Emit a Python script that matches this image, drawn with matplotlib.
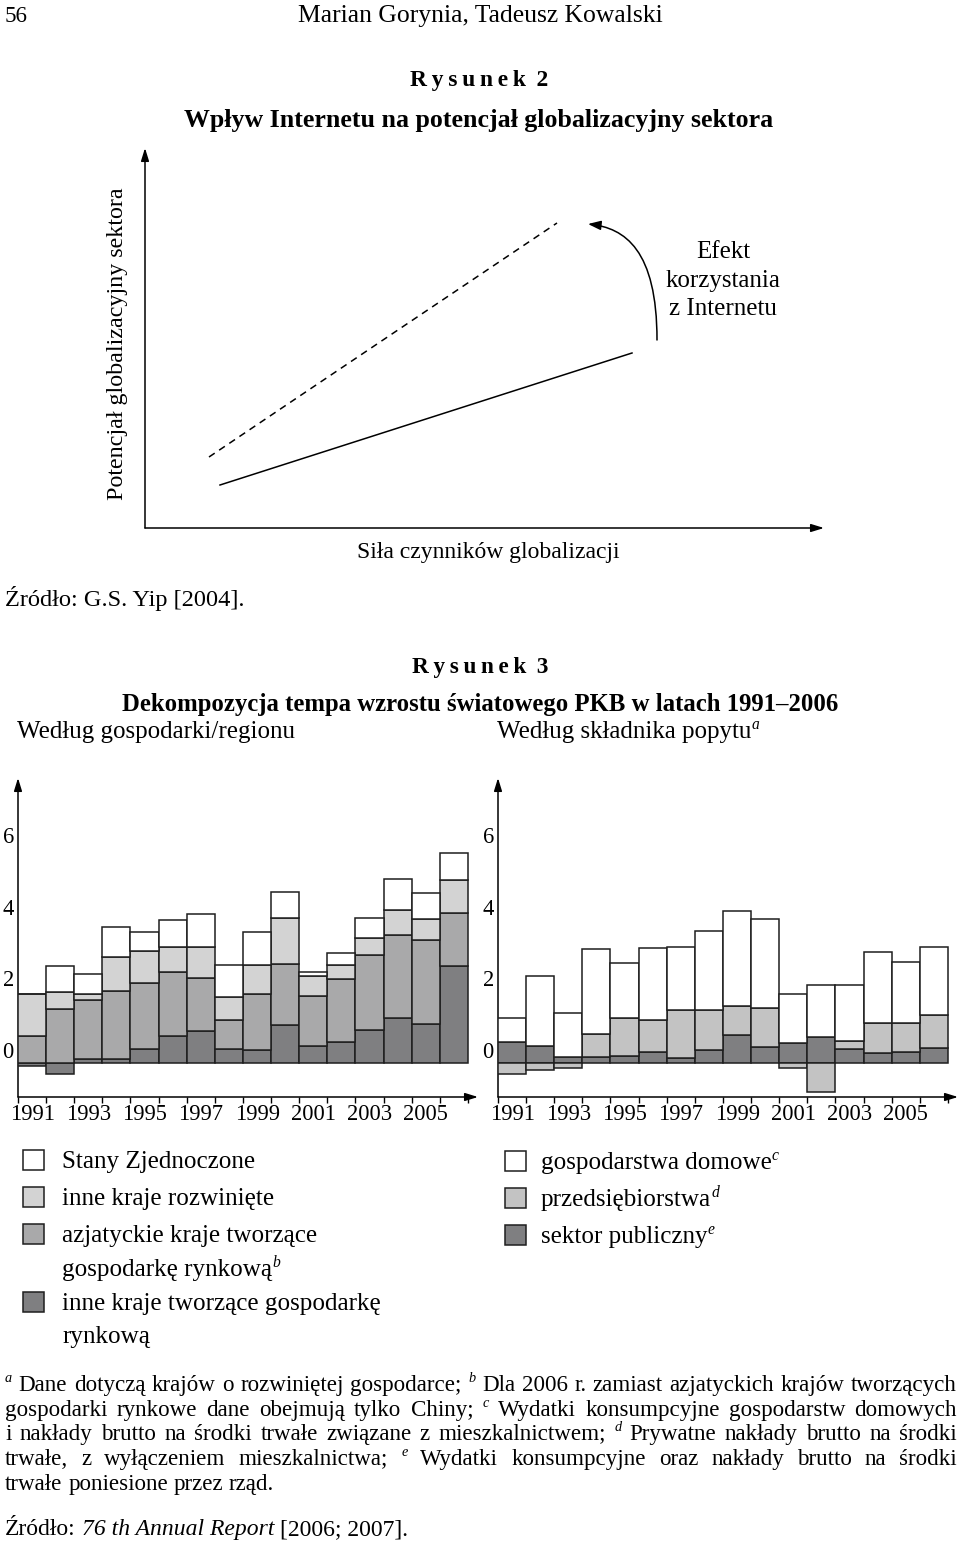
import numpy as np
import matplotlib
matplotlib.use('Agg')
import matplotlib.pyplot as plt
from matplotlib.font_manager import FontProperties
from matplotlib.patches import Rectangle, FancyArrowPatch
from matplotlib.path import Path

SERIF = ['Liberation Serif', 'DejaVu Serif']
plt.rcParams['font.family'] = SERIF

# --- dane (Rysunek 3), wkłady do wzrostu PKB w pkt proc. ---
years = np.arange(1991, 2007)
# wg gospodarki/regionu
usa = [0.0, 0.72, 0.54, 0.84, 0.53, 0.75, 0.92, 0.88, 0.94, 0.72, 0.12, 0.33, 0.55, 0.87, 0.71, 0.78]
other_dev = [1.19, 0.47, 0.18, 0.96, 0.91, 0.71, 0.86, 0.65, 0.80, 1.28, 0.56, 0.40, 0.47, 0.70, 0.60, 0.92]
asia_em = [0.74, 1.51, 1.66, 1.89, 1.85, 1.78, 1.49, 0.80, 1.57, 1.71, 1.38, 1.74, 2.10, 2.31, 2.33, 1.47]
other_em = [-0.09, -0.32, 0.09, 0.11, 0.37, 0.74, 0.88, 0.39, 0.35, 1.05, 0.48, 0.59, 0.91, 1.25, 1.09, 2.70]
# wg skladnika popytu
households = [0.68, 1.94, 1.22, 2.37, 1.53, 2.00, 1.77, 2.22, 2.67, 2.49, 1.39, 1.45, 1.55, 2.00, 1.68, 1.89]
business = [-0.32, -0.19, -0.16, 0.65, 1.06, 0.90, 1.34, 1.10, 0.81, 1.10, -0.14, -0.81, 0.24, 0.82, 0.83, 0.91]
public = [0.58, 0.48, 0.16, 0.15, 0.20, 0.29, 0.12, 0.36, 0.77, 0.43, 0.54, 0.72, 0.37, 0.28, 0.29, 0.42]
yticks = [0, 2, 4, 6]

C_WHITE, C_LIGHT, C_MID, C_DARK = '#ffffff', '#d3d3d3', '#a9a9aa', '#7f7f81'
C_RLIGHT = '#c3c3c3'
EDGE = '#1e1e1e'

fig = plt.figure(figsize=(9.6, 15.44), dpi=100)
ax0 = fig.add_axes([0, 0, 1, 1])
ax0.set_xlim(0, 960)
ax0.set_ylim(1544, 0)
ax0.axis('off')
R = fig.canvas.get_renderer()


def tw(s, size, **kw):
    fp = FontProperties(family=SERIF, size=size, **kw)
    return R.get_text_width_height_descent(s, fp, ismath=False)[0]


def fit(s, width, **kw):
    return 20 * width / tw(s, 20, **kw)


def base(yc, size):
    return yc + 0.33 * size / 0.72


def put(x, yc, s, size, ha='left', **kw):
    return ax0.text(x, base(yc, size), s, fontsize=size, ha=ha, va='baseline', **kw)


def run_style(kind, size, b):
    if kind == 'sup':
        return size * 0.62, dict(style='italic'), b - 0.36 * size / 0.72
    if kind == 'i':
        return size, dict(style='italic'), b
    return size, {}, b


def runs(x, yc, parts, size, draw=True):
    b = base(yc, size)
    sp = tw('a a', size) - tw('aa', size)
    for s, kind in parts:
        if kind == 'sp':
            x += sp
            continue
        sz, kw, yy = run_style(kind, size, b)
        if draw:
            ax0.text(x, yy, s, fontsize=sz, ha='left', va='baseline', **kw)
        x += tw(s, sz, **kw)
    return x


def arrow(p0, p1):
    ax0.annotate('', xy=p1, xytext=p0,
                 arrowprops=dict(arrowstyle='-|>,head_length=0.55,head_width=0.17',
                                 color='k', lw=1.1, shrinkA=0, shrinkB=0,
                                 mutation_scale=14))


# --- naglowek strony ---
put(5, 14, '56', fit('56', 23))
put(480, 14, 'Marian Gorynia, Tadeusz Kowalski',
    fit('Marian Gorynia, Tadeusz Kowalski', 365), ha='center')

# --- Rysunek 2 ---
rys2 = 'R\u2009y\u2009s\u2009u\u2009n\u2009e\u2009k\u2009 2'
put(479, 78, rys2, fit(rys2, 138, weight='bold'), ha='center', weight='bold')
t2 = 'Wpływ Internetu na potencjał globalizacyjny sektora'
put(479, 118, t2, fit(t2, 587, weight='bold'), ha='center', weight='bold')

arrow((145, 528), (145, 148))
arrow((145, 528), (824, 528))
ax0.plot([220, 632], [485, 353], color='k', lw=1.1)
ax0.plot([209, 557], [457, 223], color='k', lw=1.1, dashes=(4.5, 3.5))
curve = Path([(657, 340), (657, 250), (625, 228), (588, 224)],
             [Path.MOVETO, Path.CURVE4, Path.CURVE4, Path.CURVE4])
ax0.add_patch(FancyArrowPatch(path=curve, arrowstyle='-|>,head_length=0.55,head_width=0.2',
                              mutation_scale=14, color='k', lw=1.1))
ylab = 'Potencjał globalizacyjny sektora'
ax0.text(118, 344, ylab, rotation=90, ha='center', va='center', fontsize=fit(ylab, 312))
xlab = 'Siła czynników globalizacji'
put(488, 550, xlab, fit(xlab, 263), ha='center')
eff_size = fit('korzystania', 115)
for yc, s in [(250, 'Efekt'), (279, 'korzystania'), (307, 'z Internetu')]:
    put(723, yc, s, eff_size, ha='center')
src2 = 'Źródło: G.S. Yip [2004].'
put(5, 598, src2, fit(src2, 240))

# --- Rysunek 3 ---
rys3 = 'R\u2009y\u2009s\u2009u\u2009n\u2009e\u2009k\u2009 3'
put(480, 665, rys3, fit(rys3, 136, weight='bold'), ha='center', weight='bold')
t3 = 'Dekompozycja tempa wzrostu światowego PKB w latach 1991–2006'
put(480, 703, t3, fit(t3, 715, weight='bold'), ha='center', weight='bold')
sub_size = fit('Według gospodarki/regionu', 278)
put(17, 730, 'Według gospodarki/regionu', sub_size)
runs(497, 730, [('Według składnika popytu', 'n'), ('a', 'sup')], sub_size)

tick_size = fit('1991', 45)
PX_UNIT, PX_W = 35.8, 28.125
Y0, Y_AX, Y_TOP = 1062.7, 1097, 778


def bar_panel(px_left, series, colors):
    w = 470
    ax = fig.add_axes([px_left / 960, (1544 - Y_AX) / 1544, w / 960, (Y_AX - Y_TOP) / 1544])
    ax.set_facecolor('none')
    ax.set_xlim(1990.5, 1990.5 + w / PX_W)
    ax.set_ylim(-(Y_AX - Y0) / PX_UNIT, (Y0 - Y_TOP) / PX_UNIT)
    pos = np.zeros(len(years))
    neg = np.zeros(len(years))
    for vals, c in zip(series, colors):
        v = np.asarray(vals, dtype=float)
        ax.bar(years, v, width=1.0, bottom=np.where(v >= 0, pos, neg), color=c,
               edgecolor=EDGE, linewidth=1.1, zorder=3)
        pos += np.where(v >= 0, v, 0)
        neg += np.where(v < 0, v, 0)
    for s in ax.spines.values():
        s.set_visible(False)
    ax.set_xticks(np.arange(1990.5, 2007, 1.0))
    ax.set_xticklabels([])
    ax.set_xticks(years[::2], minor=True)
    ax.set_xticklabels([str(y) for y in years[::2]], minor=True)
    ax.tick_params(axis='x', which='major', direction='out', length=4, width=1.0)
    ax.tick_params(axis='x', which='minor', length=0, pad=5, labelsize=tick_size)
    ax.set_yticks(yticks)
    ax.set_yticklabels([str(t) for t in yticks])
    ax.tick_params(axis='y', length=0, pad=3, labelsize=tick_size)
    for lab in ax.get_yticklabels():
        lab.set_va('bottom')
    arrow((px_left, Y_AX), (px_left, Y_TOP))
    arrow((px_left, Y_AX), (px_left + w - 10, Y_AX))
    return ax


bar_panel(18, [other_em, asia_em, other_dev, usa], [C_DARK, C_MID, C_LIGHT, C_WHITE])
bar_panel(498, [public, business, households], [C_DARK, C_RLIGHT, C_WHITE])

# --- legendy ---
leg_size = fit('Stany Zjednoczone', 193)
left_leg = [(1160, C_WHITE, [('Stany Zjednoczone', 'n')]),
            (1197, C_LIGHT, [('inne kraje rozwinięte', 'n')]),
            (1234, C_MID, [('azjatyckie kraje tworzące', 'n')]),
            (1268, None, [('gospodarkę rynkową', 'n'), ('b', 'sup')]),
            (1302, C_DARK, [('inne kraje tworzące gospodarkę', 'n')]),
            (1335, None, [('rynkową', 'n')])]
right_leg = [(1161, C_WHITE, [('gospodarstwa domowe', 'n'), ('c', 'sup')]),
             (1198, C_RLIGHT, [('przedsiębiorstwa', 'n'), ('d', 'sup')]),
             (1235, C_DARK, [('sektor publiczny', 'n'), ('e', 'sup')])]
for x_sq, x_txt, items in [(23, 62, left_leg), (505, 541, right_leg)]:
    for yc, col, parts in items:
        if col is not None:
            ax0.add_patch(Rectangle((x_sq, yc - 10), 21, 20, facecolor=col,
                                    edgecolor=EDGE, lw=1.1))
        runs(x_txt, yc, parts, leg_size)

# --- przypisy (wyjustowane) ---
foot_lines = [
    '^a Dane dotyczą krajów o rozwiniętej gospodarce; ^b Dla 2006 r. zamiast azjatyckich krajów tworzących',
    'gospodarki rynkowe dane obejmują tylko Chiny; ^c Wydatki konsumpcyjne gospodarstw domowych',
    'i nakłady brutto na środki trwałe związane z mieszkalnictwem; ^d Prywatne nakłady brutto na środki',
    'trwałe, z wyłączeniem mieszkalnictwa; ^e Wydatki konsumpcyjne oraz nakłady brutto na środki',
    'trwałe poniesione przez rząd.',
]
foot_y = [1383, 1408, 1432, 1457, 1482]


def foot_items(line, size, b):
    out = []
    for t in line.split(' '):
        if t.startswith('^'):
            out.append((t[1:],) + run_style('sup', size, b))
        else:
            out.append((t,) + run_style('n', size, b))
    return out


# rozmiar tak, by najdluzsza linia przy zwyklych odstepach miescila sie w ~948 px
natural = []
for line in foot_lines[:-1]:
    it = foot_items(line, 15, 0)
    sp = tw('a a', 15) - tw('aa', 15)
    natural.append(sum(tw(s, sz, **kw) for s, sz, kw, _ in it) + sp * (len(it) - 1))
FS = 15 * 948 / max(natural)

for i, (line, yc) in enumerate(zip(foot_lines, foot_y)):
    items = foot_items(line, FS, base(yc, FS))
    widths = [tw(s, sz, **kw) for s, sz, kw, _ in items]
    if i < len(foot_lines) - 1:
        gap = (957 - 5 - sum(widths)) / (len(items) - 1)
    else:
        gap = tw('a a', FS) - tw('aa', FS)
    x = 5
    for (s, sz, kw, yy), wd in zip(items, widths):
        ax0.text(x, yy, s, fontsize=sz, ha='left', va='baseline', **kw)
        x += wd + gap

src_parts = [('Źródło:', 'n'), ('', 'sp'), ('76 th Annual Report', 'i'), ('', 'sp'),
             ('[2006; 2007].', 'n')]
src_size = FS * 403 / runs(0, 0, src_parts, FS, draw=False)
runs(5, 1527, src_parts, src_size)

fig.savefig('out.png', dpi=100)
